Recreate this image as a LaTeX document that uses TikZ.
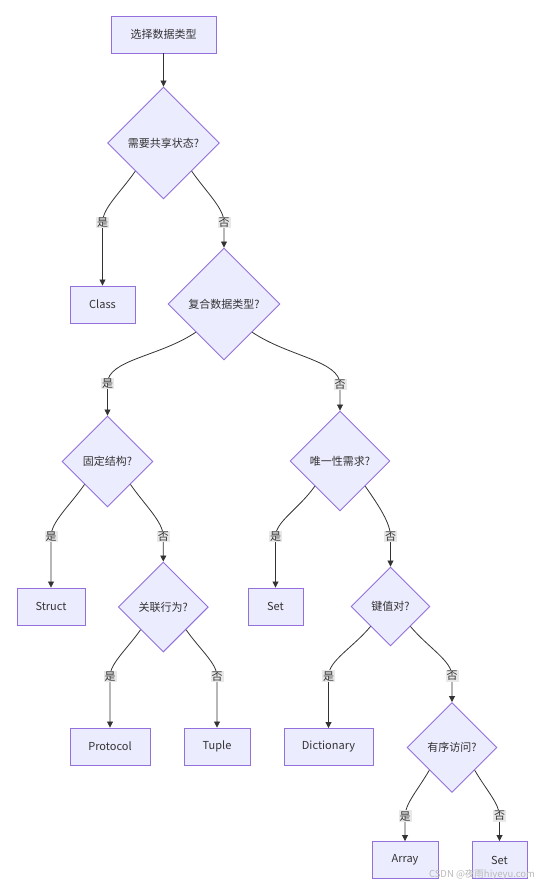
\documentclass[tikz,border=0pt]{standalone}
\usepackage{fontspec}
\setmainfont{Noto Sans CJK SC}
\usetikzlibrary{shapes.geometric,arrows.meta,calc}
\definecolor{nodefill}{HTML}{ECECFF}
\definecolor{nodeline}{HTML}{9370DB}
\definecolor{edgeline}{HTML}{333333}
\definecolor{lblfill}{HTML}{E8E8E8}

\begin{document}
\begin{tikzpicture}[x=1pt, y=1pt,
    every node/.style={font=\fontsize{11}{13}\selectfont, text=edgeline},
    box/.style={draw=nodeline, fill=nodefill, line width=0.9pt, minimum height=37pt, inner sep=0pt},
    choice/.style={diamond, draw=nodeline, fill=nodefill, line width=0.9pt, inner sep=0pt},
    edge/.style={draw=edgeline, line width=0.8pt, -{Triangle[length=6pt,width=6pt]}},
    curvy/.style={out looseness=1.1, in looseness=0.6},
    lbl/.style={fill=lblfill, inner sep=1pt, font=\fontsize{11}{12}\selectfont}]
    \useasboundingbox (0,0) rectangle (538,-887);

    % boxes
    \node[box, minimum width=105pt] (start) at (163.5,-34.5) {选择数据类型};
    \node[box, minimum width=65pt] (class) at (102.5,-304.5) {Class};
    \node[box, minimum width=68pt] (struct) at (51,-606.5) {Struct};
    \node[box, minimum width=55pt] (setA) at (275.5,-606.5) {Set};
    \node[box, minimum width=80pt] (protocol) at (110,-746.5) {Protocol};
    \node[box, minimum width=66pt] (tuple) at (217,-746.5) {Tuple};
    \node[box, minimum width=89pt] (dict) at (328.5,-747) {Dictionary};
    \node[box, minimum width=66pt] (array) at (405,-860) {Array};
    \node[box, minimum width=55pt] (setB) at (499.5,-860) {Set};

    % questions
    \node[choice, minimum width=112pt, minimum height=112pt] (shared) at (163.5,-143) {需要共享状态?};
    \node[choice, minimum width=112pt, minimum height=112pt] (compound) at (224,-304) {复合数据类型?};
    \node[choice, minimum width=91pt, minimum height=91pt] (fixed) at (107.5,-461.5) {固定结构?};
    \node[choice, minimum width=100pt, minimum height=100pt] (unique) at (340,-461) {唯一性需求?};
    \node[choice, minimum width=90pt, minimum height=90pt] (assoc) at (163.3,-607) {关联行为?};
    \node[choice, minimum width=79pt, minimum height=79pt] (keyval) at (390.5,-606.5) {键值对?};
    \node[choice, minimum width=90pt, minimum height=90pt] (ordered) at (452,-747.5) {有序访问?};

    % connectors: curve down to the label, then straight into the node
    \draw[edge] (start) -- (shared);
    \draw[edge] (shared.south west) to[out=-125, in=90, curvy] ($(class.north)+(0,63)$) node[lbl] {是} -- (class.north);
    \draw[edge] (shared.south east) to[out=-55, in=90, curvy] ($(compound.north)+(0,25)$) node[lbl] {否} -- (compound.north);
    \draw[edge] (compound.south west) to[out=-146, in=90, curvy] ($(fixed.north)+(0,32)$) node[lbl] {是} -- (fixed.north);
    \draw[edge] (compound.south east) to[out=-34, in=90, curvy] ($(unique.north)+(0,26)$) node[lbl] {否} -- (unique.north);
    \draw[edge] (fixed.south west) to[out=-125, in=90, curvy] ($(struct.north)+(0,51)$) node[lbl] {是} -- (struct.north);
    \draw[edge] (fixed.south east) to[out=-55, in=90, curvy] ($(assoc.north)+(0,25)$) node[lbl] {否} -- (assoc.north);
    \draw[edge] (unique.south west) to[out=-125, in=90, curvy] ($(setA.north)+(0,51)$) node[lbl] {是} -- (setA.north);
    \draw[edge] (unique.south east) to[out=-55, in=90, curvy] ($(keyval.north)+(0,30)$) node[lbl] {否} -- (keyval.north);
    \draw[edge] (assoc.south west) to[out=-125, in=90, curvy] ($(protocol.north)+(0,51)$) node[lbl] {是} -- (protocol.north);
    \draw[edge] (assoc.south east) to[out=-55, in=90, curvy] ($(tuple.north)+(0,51)$) node[lbl] {否} -- (tuple.north);
    \draw[edge] (keyval.south west) to[out=-130, in=90, curvy] ($(dict.north)+(0,52)$) node[lbl] {是} -- (dict.north);
    \draw[edge] (keyval.south east) to[out=-50, in=90, curvy] ($(ordered.north)+(0,26)$) node[lbl] {否} -- (ordered.north);
    \draw[edge] (ordered.south west) to[out=-120, in=90, curvy] ($(array.north)+(0,25)$) node[lbl] {是} -- (array.north);
    \draw[edge] (ordered.south east) to[out=-60, in=90, curvy] ($(setB.north)+(0,25)$) node[lbl] {否} -- (setB.north);

    % watermark
    \node[text=gray!55, font=\fontsize{9.5}{11}\selectfont] (mark) at (482,-875) {CSDN @夜雨hiyeyu.com};
\end{tikzpicture}
\end{document}
